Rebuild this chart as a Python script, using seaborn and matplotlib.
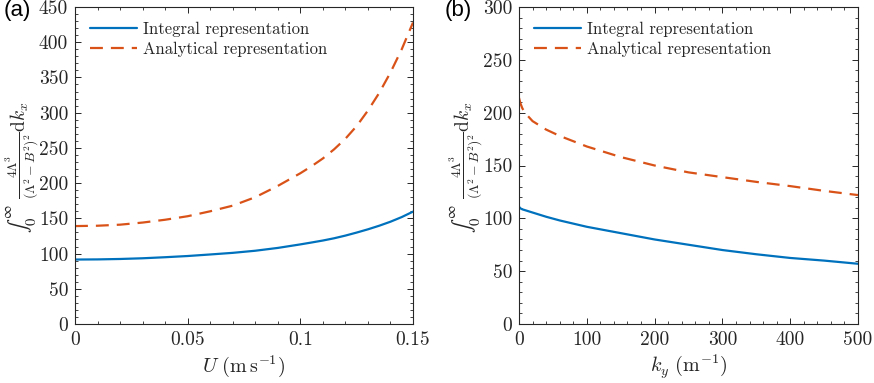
import numpy as np
import pandas as pd
import matplotlib
matplotlib.use("Agg")
import matplotlib.pyplot as plt
import seaborn as sns
from matplotlib.ticker import AutoMinorLocator

# ---------------- data ----------------
U_vals = [0.0, 0.01, 0.02, 0.03, 0.04, 0.05, 0.06, 0.07, 0.08, 0.09, 0.10,
          0.105, 0.11, 0.115, 0.12, 0.125, 0.13, 0.135, 0.14, 0.145, 0.15]
a_integral = [91.5, 91.7, 92.3, 93.3, 94.8, 96.5, 98.7, 101.0, 104.0, 108.0, 113.0,
              115.7, 118.5, 121.7, 125.5, 129.8, 134.4, 139.5, 145.2, 151.8, 159.5]
a_analytic = [139.0, 139.5, 141.0, 144.0, 148.0, 153.0, 160.0, 168.0, 180.0, 196.0, 214.0,
              224.0, 235.0, 248.0, 263.0, 281.0, 303.0, 328.0, 357.0, 390.0, 428.0]

ky_vals = [0, 2, 5, 10, 20, 40, 60, 80, 100, 150, 200, 250, 300, 350, 400, 450, 500]
b_integral = [111.0, 109.5, 108.5, 107.5, 105.5, 101.5, 98.0, 95.0, 92.0, 86.0, 80.0,
              75.0, 70.0, 66.0, 62.5, 60.0, 57.0]
b_analytic = [214.0, 209.0, 204.0, 199.0, 192.0, 184.0, 178.0, 173.0, 168.0, 158.0, 150.0,
              143.5, 139.0, 134.5, 130.5, 126.0, 122.0]

series_names = ["Integral representation", "Analytical representation"]

a_xticks = [0, 0.05, 0.1, 0.15]
a_xticklabels = ["0", "0.05", "0.1", "0.15"]
a_yticks = [0, 50, 100, 150, 200, 250, 300, 350, 400, 450]
b_xticks = [0, 100, 200, 300, 400, 500]
b_yticks = [0, 50, 100, 150, 200, 250, 300]

ylabel_int = r"$\int_0^\infty$"
ylabel_body = r"$\frac{4\Lambda^3}{(\Lambda^2-B^2)^2}\mathrm{d}k_x$"
a_xlabel = r"$U\ (\mathrm{m\,s^{-1}})$"
b_xlabel = r"$k_y\ (\mathrm{m^{-1}})$"
panel_labels = ["(a)", "(b)"]

# ---------------- style ----------------
sns.set_theme(style="ticks")
plt.rcParams.update({
    "font.family": "serif",
    "font.serif": ["cmr10"],
    "mathtext.fontset": "cm",
    "axes.unicode_minus": False,
    "axes.formatter.use_mathtext": True,
    "axes.edgecolor": "#262626",
    "axes.linewidth": 0.8,
    "xtick.color": "#262626",
    "ytick.color": "#262626",
    "xtick.labelcolor": "#262626",
    "ytick.labelcolor": "#262626",
})

BLUE = "#0072BD"
ORANGE = "#D95319"
DASH = (5.8, 3.6)
TXT = "#262626"

fig = plt.figure(figsize=(8.74, 3.83), dpi=100)
axA = fig.add_axes([75/874, 59/383, 338/874, 317/383])
axB = fig.add_axes([519/874, 59/383, 339/874, 317/383])

dfA = pd.DataFrame({"x": U_vals * 2,
                    "y": a_integral + a_analytic,
                    "series": [series_names[0]] * len(U_vals) + [series_names[1]] * len(U_vals)})
dfB = pd.DataFrame({"x": ky_vals * 2,
                    "y": b_integral + b_analytic,
                    "series": [series_names[0]] * len(ky_vals) + [series_names[1]] * len(ky_vals)})

for ax, df in [(axA, dfA), (axB, dfB)]:
    sns.lineplot(data=df, x="x", y="y", hue="series", style="series",
                 palette={series_names[0]: BLUE, series_names[1]: ORANGE},
                 dashes={series_names[0]: "", series_names[1]: DASH},
                 linewidth=1.6, ax=ax, sort=False)

def style_axis(ax, xlim, ylim, xticks, yticks, xlabel, xticklabels=None):
    ax.set_xlim(*xlim)
    ax.set_ylim(*ylim)
    ax.set_xticks(xticks)
    if xticklabels is not None:
        ax.set_xticklabels(xticklabels)
    else:
        ax.set_xticklabels([str(t) for t in xticks])
    ax.set_yticks(yticks)
    ax.set_yticklabels([str(t) for t in yticks])
    ax.xaxis.set_minor_locator(AutoMinorLocator(5))
    ax.yaxis.set_minor_locator(AutoMinorLocator(5))
    ax.tick_params(which="both", direction="in", top=True, right=True,
                   labelsize=14, pad=5)
    ax.tick_params(which="major", length=4.5, width=0.7)
    ax.tick_params(which="minor", length=2.4, width=0.6)
    for s in ax.spines.values():
        s.set_visible(True)
    ax.set_xlabel(xlabel, fontsize=14.5, labelpad=3)
    ax.set_ylabel("")
    # y label drawn as two rotated pieces (integral sign + integrand)
    xoff = -53 / (ax.get_position().width * 874)
    ax.text(xoff, 0.334, ylabel_int, transform=ax.transAxes, rotation=90,
            ha="center", va="center", fontsize=15, color=TXT,
            math_fontfamily="stix")
    ax.text(xoff, 0.548, ylabel_body, transform=ax.transAxes, rotation=90,
            ha="center", va="center", fontsize=14, color=TXT)
    leg = ax.legend(loc="upper left", frameon=False, fontsize=12,
                    handlelength=2.8, handletextpad=0.4, labelspacing=0.25,
                    borderaxespad=0.5, bbox_to_anchor=(0.0, 1.0))
    for h in leg.get_lines():
        h.set_linewidth(1.6)

style_axis(axA, (0, 0.15), (0, 450), a_xticks, a_yticks, a_xlabel, a_xticklabels)
style_axis(axB, (0, 500), (0, 300), b_xticks, b_yticks, b_xlabel)

fig.text(4/874, 1.0, panel_labels[0], family="Liberation Sans", fontsize=16,
         va="top", ha="left", color="black")
fig.text(445/874, 1.0, panel_labels[1], family="Liberation Sans", fontsize=16,
         va="top", ha="left", color="black")

fig.savefig("out.png", dpi=100)
